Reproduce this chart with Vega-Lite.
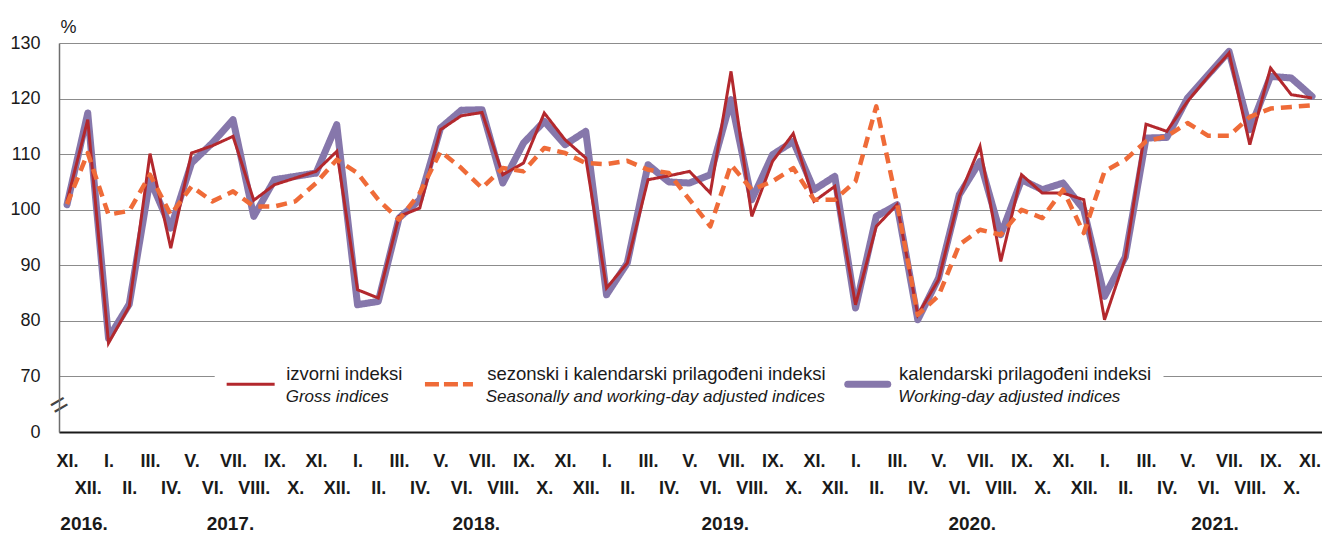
{
  "$schema": "https://vega.github.io/schema/vega-lite/v6.json",
  "width": 1263,
  "height": 389,
  "autosize": {"type": "none"},
  "padding": {"left": 59, "top": 43, "right": 0, "bottom": 102},
  "background": "white",
  "config": {
    "view": {"stroke": null},
    "font": "Liberation Sans",
    "axis": {"labelFont": "Liberation Sans", "titleFont": "Liberation Sans"},
    "legend": {"labelFont": "Liberation Sans"}
  },
  "title": {
    "text": "Ø 2015. = 100",
    "anchor": "end",
    "frame": "group",
    "offset": 26,
    "baseline": "top",
    "fontSize": 18,
    "fontWeight": "normal",
    "color": "#1a1a1a",
    "font": "Liberation Sans"
  },
  "data": {
    "values": [
      {"i": 0, "izv": 101.5, "sez": 101.0, "kal": 100.9},
      {"i": 1, "izv": 116.2, "sez": 110.2, "kal": 117.4},
      {"i": 2, "izv": 76.0, "sez": 99.1, "kal": 76.9},
      {"i": 3, "izv": 82.6, "sez": 99.8, "kal": 83.0},
      {"i": 4, "izv": 110.1, "sez": 106.3, "kal": 105.4},
      {"i": 5, "izv": 93.1, "sez": 99.1, "kal": 96.7},
      {"i": 6, "izv": 110.2, "sez": 104.2, "kal": 108.4},
      {"i": 7, "izv": 111.5, "sez": 101.5, "kal": 112.0},
      {"i": 8, "izv": 113.2, "sez": 103.3, "kal": 116.2},
      {"i": 9, "izv": 101.7, "sez": 100.6, "kal": 98.8},
      {"i": 10, "izv": 104.5, "sez": 100.6, "kal": 105.4},
      {"i": 11, "izv": 105.7, "sez": 101.5, "kal": 106.0},
      {"i": 12, "izv": 106.9, "sez": 104.8, "kal": 106.6},
      {"i": 13, "izv": 110.5, "sez": 109.0, "kal": 115.3},
      {"i": 14, "izv": 85.6, "sez": 106.6, "kal": 82.9},
      {"i": 15, "izv": 84.1, "sez": 101.8, "kal": 83.5},
      {"i": 16, "izv": 98.8, "sez": 98.2, "kal": 98.5},
      {"i": 17, "izv": 100.3, "sez": 103.0, "kal": 101.8},
      {"i": 18, "izv": 114.4, "sez": 110.5, "kal": 114.7},
      {"i": 19, "izv": 116.9, "sez": 107.5, "kal": 117.9},
      {"i": 20, "izv": 117.5, "sez": 103.9, "kal": 118.0},
      {"i": 21, "izv": 106.3, "sez": 107.5, "kal": 104.8},
      {"i": 22, "izv": 108.4, "sez": 106.9, "kal": 112.0},
      {"i": 23, "izv": 117.4, "sez": 111.1, "kal": 115.9},
      {"i": 24, "izv": 112.6, "sez": 110.2, "kal": 111.7},
      {"i": 25, "izv": 109.3, "sez": 108.4, "kal": 114.1},
      {"i": 26, "izv": 85.9, "sez": 108.2, "kal": 84.7},
      {"i": 27, "izv": 90.4, "sez": 108.8, "kal": 90.4},
      {"i": 28, "izv": 105.4, "sez": 107.2, "kal": 108.1},
      {"i": 29, "izv": 106.1, "sez": 106.6, "kal": 105.0},
      {"i": 30, "izv": 106.9, "sez": 101.8, "kal": 104.8},
      {"i": 31, "izv": 103.0, "sez": 97.0, "kal": 106.3},
      {"i": 32, "izv": 124.9, "sez": 108.1, "kal": 119.8},
      {"i": 33, "izv": 98.8, "sez": 103.6, "kal": 101.8},
      {"i": 34, "izv": 108.7, "sez": 105.1, "kal": 109.9},
      {"i": 35, "izv": 113.7, "sez": 107.5, "kal": 112.3},
      {"i": 36, "izv": 101.5, "sez": 101.8, "kal": 103.6},
      {"i": 37, "izv": 104.2, "sez": 101.8, "kal": 106.0},
      {"i": 38, "izv": 82.9, "sez": 105.1, "kal": 82.3},
      {"i": 39, "izv": 97.0, "sez": 118.6, "kal": 98.8},
      {"i": 40, "izv": 100.9, "sez": 101.2, "kal": 100.9},
      {"i": 41, "izv": 81.1, "sez": 81.1, "kal": 80.2},
      {"i": 42, "izv": 87.4, "sez": 84.5, "kal": 87.7},
      {"i": 43, "izv": 102.4, "sez": 93.7, "kal": 102.7},
      {"i": 44, "izv": 111.4, "sez": 96.4, "kal": 108.7},
      {"i": 45, "izv": 90.7, "sez": 95.5, "kal": 95.5},
      {"i": 46, "izv": 106.3, "sez": 100.0, "kal": 105.4},
      {"i": 47, "izv": 103.0, "sez": 98.5, "kal": 103.6},
      {"i": 48, "izv": 103.0, "sez": 103.6, "kal": 104.8},
      {"i": 49, "izv": 101.8, "sez": 95.8, "kal": 100.0},
      {"i": 50, "izv": 80.2, "sez": 106.9, "kal": 84.4},
      {"i": 51, "izv": 91.3, "sez": 109.0, "kal": 91.5},
      {"i": 52, "izv": 115.4, "sez": 112.3, "kal": 112.9},
      {"i": 53, "izv": 114.1, "sez": 113.2, "kal": 113.0},
      {"i": 54, "izv": 119.5, "sez": 115.6, "kal": 120.1},
      {"i": 55, "izv": 124.0, "sez": 113.3, "kal": 124.3},
      {"i": 56, "izv": 128.2, "sez": 113.3, "kal": 128.5},
      {"i": 57, "izv": 111.7, "sez": 116.7, "kal": 114.4},
      {"i": 58, "izv": 125.5, "sez": 118.2, "kal": 124.0},
      {"i": 59, "izv": 120.7, "sez": 118.5, "kal": 123.7},
      {"i": 60, "izv": 120.1, "sez": 118.8, "kal": 120.4}
    ]
  },
  "encoding": {
    "y": {
      "field": "v",
      "type": "quantitative",
      "scale": {"domain": [60, 130], "nice": false, "zero": false},
      "axis": {
        "values": [60, 70, 80, 90, 100, 110, 120, 130],
        "labelExpr": "datum.value == 60 ? '0' : datum.label",
        "grid": true,
        "gridColor": "#8c8c8c",
        "gridWidth": 1,
        "ticks": false,
        "tickSize": 0,
        "domain": true,
        "domainColor": "#6e6e6e",
        "domainWidth": 1.5,
        "labelPadding": 19,
        "labelFontSize": 18,
        "labelColor": "#1a1a1a",
        "labelOverlap": false,
        "title": "%",
        "titleAngle": 0,
        "titleX": 1,
        "titleY": -11,
        "titleAlign": "left",
        "titleBaseline": "alphabetic",
        "titleFontSize": 18,
        "titleFontWeight": "normal",
        "titleColor": "#1a1a1a"
      }
    }
  },
  "layer": [
    {
      "transform": [{"fold": ["izv", "sez", "kal"], "as": ["s", "v"]}, {"filter": "datum.s == 'kal'"}],
      "mark": {"type": "line", "strokeWidth": 7, "strokeCap": "round", "strokeJoin": "round"},
      "encoding": {
        "x": {
          "field": "i",
          "type": "quantitative",
          "scale": {"domain": [-0.386, 60.48], "nice": false, "zero": false},
          "axis": {
            "orient": "bottom",
            "values": [0, 2, 4, 6, 8, 10, 12, 14, 16, 18, 20, 22, 24, 26, 28, 30, 32, 34, 36, 38, 40, 42, 44, 46, 48, 50, 52, 54, 56, 58, 60],
            "labelExpr": "['I.','II.','III.','IV.','V.','VI.','VII.','VIII.','IX.','X.','XI.','XII.'][(datum.value + 10) % 12]",
            "grid": false,
            "ticks": false,
            "tickSize": 0,
            "domain": true,
            "domainColor": "#1a1a1a",
            "domainWidth": 1.8,
            "labelPadding": 20,
            "labelFontSize": 18,
            "labelFontWeight": "bold",
            "labelColor": "#1a1a1a",
            "labelOffset": {"condition": {"test": "datum.value == 60", "value": -2.5}, "value": 0},
            "labelOverlap": false,
            "labelFlush": false,
            "labelBound": false,
            "title": null
          }
        },
        "color": {
          "field": "s",
          "type": "nominal",
          "scale": {"domain": ["izv", "sez", "kal"], "range": ["#b3282d", "#ef6b38", "#8677ab"]},
          "legend": {
            "values": ["kal"],
            "labelExpr": "'kalendarski prilagođeni indeksi'",
            "title": null,
            "orient": "none",
            "legendX": 777.5,
            "legendY": 320,
            "symbolType": "M-5,0H5",
            "symbolSize": 64,
            "symbolStrokeWidth": 7,
            "symbolOffset": 10,
            "labelOffset": 22.1,
            "labelBaseline": "bottom",
            "labelFontSize": 18.5,
            "labelColor": "#1a1a1a",
            "labelLimit": 800,
            "fillColor": "white",
            "padding": 12,
            "encode": {"symbols": {"update": {"strokeCap": {"value": "round"}, "fill": {"value": "transparent"}}}}
          }
        },
        "strokeDash": {
          "field": "s",
          "type": "nominal",
          "scale": {"domain": ["kal", "izv", "sez"], "range": [[1, 0], [1, 0], [11, 7]]},
          "legend": {
            "values": ["kal"],
            "labelExpr": "'Working-day adjusted indices'",
            "title": null,
            "orient": "none",
            "legendX": 789.5,
            "legendY": 350,
            "symbolType": "M-5,0H5",
            "symbolSize": 64,
            "symbolOpacity": 0,
            "symbolOffset": 10,
            "labelOffset": 22.8,
            "labelBaseline": "alphabetic",
            "labelFontSize": 17,
            "labelFontStyle": "italic",
            "labelColor": "#1a1a1a",
            "labelLimit": 800,
            "padding": 0
          }
        }
      }
    },
    {
      "transform": [{"fold": ["izv", "sez", "kal"], "as": ["s", "v"]}, {"filter": "datum.s == 'izv'"}],
      "mark": {"type": "line", "strokeWidth": 3, "strokeJoin": "miter"},
      "encoding": {
        "x": {
          "field": "i",
          "type": "quantitative",
          "scale": {"domain": [-0.386, 60.48], "nice": false, "zero": false},
          "axis": {
            "orient": "bottom",
            "values": [1, 3, 5, 7, 9, 11, 13, 15, 17, 19, 21, 23, 25, 27, 29, 31, 33, 35, 37, 39, 41, 43, 45, 47, 49, 51, 53, 55, 57, 59],
            "labelExpr": "['I.','II.','III.','IV.','V.','VI.','VII.','VIII.','IX.','X.','XI.','XII.'][(datum.value + 10) % 12]",
            "grid": false,
            "ticks": false,
            "tickSize": 0,
            "domain": false,
            "labelPadding": 47,
            "labelFontSize": 18,
            "labelFontWeight": "bold",
            "labelColor": "#1a1a1a",
            "labelOverlap": false,
            "labelFlush": false,
            "labelBound": false,
            "title": null
          }
        },
        "color": {
          "field": "s",
          "type": "nominal",
          "scale": {"domain": ["izv", "sez", "kal"], "range": ["#b3282d", "#ef6b38", "#8677ab"]},
          "legend": {
            "values": ["izv"],
            "labelExpr": "'izvorni indeksi'",
            "title": null,
            "orient": "none",
            "legendX": 155.7,
            "legendY": 320,
            "symbolType": "M-6,0H6",
            "symbolSize": 64,
            "symbolStrokeWidth": 3,
            "symbolOffset": 14.7,
            "labelOffset": 26.3,
            "labelBaseline": "bottom",
            "labelFontSize": 18.5,
            "labelColor": "#1a1a1a",
            "labelLimit": 800,
            "fillColor": "white",
            "padding": 12,
            "encode": {"symbols": {"update": {"fill": {"value": "transparent"}}}}
          }
        },
        "strokeDash": {
          "field": "s",
          "type": "nominal",
          "scale": {"domain": ["kal", "izv", "sez"], "range": [[1, 0], [1, 0], [11, 7]]},
          "legend": {
            "values": ["izv"],
            "labelExpr": "'Gross indices'",
            "title": null,
            "orient": "none",
            "legendX": 167.7,
            "legendY": 350,
            "symbolType": "M-6,0H6",
            "symbolSize": 64,
            "symbolOpacity": 0,
            "symbolOffset": 14.7,
            "labelOffset": 27.3,
            "labelBaseline": "alphabetic",
            "labelFontSize": 17,
            "labelFontStyle": "italic",
            "labelColor": "#1a1a1a",
            "labelLimit": 800,
            "padding": 0
          }
        }
      }
    },
    {
      "transform": [{"fold": ["izv", "sez", "kal"], "as": ["s", "v"]}, {"filter": "datum.s == 'sez'"}],
      "mark": {"type": "line", "strokeWidth": 4.5, "strokeJoin": "round"},
      "encoding": {
        "x": {
          "field": "i",
          "type": "quantitative",
          "scale": {"domain": [-0.386, 60.48], "nice": false, "zero": false},
          "axis": {
            "orient": "bottom",
            "values": [0.8, 7.85, 19.7, 31.7, 43.6, 55.3],
            "labelExpr": "(2016 + floor((datum.value + 10) / 12)) + '.'",
            "grid": false,
            "ticks": false,
            "tickSize": 0,
            "domain": false,
            "labelPadding": 82,
            "labelFontSize": 19,
            "labelFontWeight": "bold",
            "labelColor": "#1a1a1a",
            "labelOverlap": false,
            "labelFlush": false,
            "labelBound": false,
            "title": null
          }
        },
        "color": {
          "field": "s",
          "type": "nominal",
          "scale": {"domain": ["izv", "sez", "kal"], "range": ["#b3282d", "#ef6b38", "#8677ab"]},
          "legend": {
            "values": ["sez"],
            "labelExpr": "'sezonski i kalendarski prilagođeni indeksi'",
            "title": null,
            "orient": "none",
            "legendX": 354.7,
            "legendY": 320,
            "symbolType": "M-6,0H6",
            "symbolSize": 64,
            "symbolStrokeWidth": 4.5,
            "symbolDash": [14, 5],
            "symbolOffset": 14,
            "labelOffset": 29,
            "labelBaseline": "bottom",
            "labelFontSize": 18.5,
            "labelColor": "#1a1a1a",
            "labelLimit": 800,
            "fillColor": "white",
            "padding": 12,
            "encode": {"symbols": {"update": {"strokeDash": {"value": [14, 5]}, "fill": {"value": "transparent"}}}}
          }
        },
        "strokeDash": {
          "field": "s",
          "type": "nominal",
          "scale": {"domain": ["kal", "izv", "sez"], "range": [[1, 0], [1, 0], [11, 7]]},
          "legend": {
            "values": ["sez"],
            "labelExpr": "'Seasonally and working-day adjusted indices'",
            "title": null,
            "orient": "none",
            "legendX": 366.7,
            "legendY": 350,
            "symbolType": "M-6,0H6",
            "symbolSize": 64,
            "symbolOpacity": 0,
            "symbolOffset": 14,
            "labelOffset": 29,
            "labelBaseline": "alphabetic",
            "labelFontSize": 17,
            "labelFontStyle": "italic",
            "labelColor": "#1a1a1a",
            "labelLimit": 800,
            "padding": 0
          }
        }
      }
    },
    {
      "transform": [{"fold": ["izv", "sez", "kal"], "as": ["s", "v"]}, {"filter": "datum.s == 'kal'"}],
      "mark": {"type": "line", "opacity": 0},
      "encoding": {
        "x": {
          "field": "i",
          "type": "quantitative",
          "scale": {"domain": [-0.386, 60.48], "nice": false, "zero": false},
          "axis": {
            "orient": "bottom",
            "values": [-0.386],
            "labelExpr": "'='",
            "labelAngle": -30,
            "labelFontSize": 30,
            "labelPadding": -27,
            "labelBaseline": "middle",
            "labelAlign": "center",
            "labelColor": "#444444",
            "grid": false,
            "ticks": false,
            "tickSize": 0,
            "domain": false,
            "labelOverlap": false,
            "labelFlush": false,
            "labelBound": false,
            "title": null
          }
        }
      }
    }
  ],
  "resolve": {
    "axis": {"x": "independent"},
    "legend": {"color": "independent", "strokeDash": "independent"}
  }
}
